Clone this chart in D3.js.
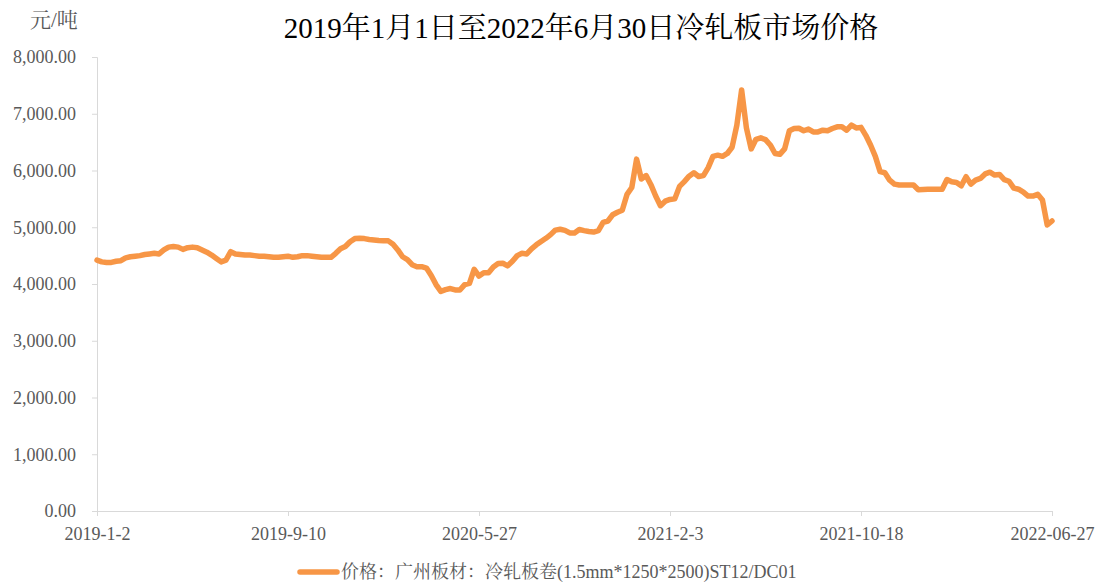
<!DOCTYPE html>
<html>
<head>
<meta charset="utf-8">
<script src="https://cdn.jsdelivr.net/npm/d3@7"></script>
<style>
  body { margin: 0; background: #fff; }
  svg { display: block; }
</style>
</head>
<body>
<div id="chart"></div>
<script>
// price samples, evenly spaced along the category axis
var prices = [
  4420, 4390, 4380, 4380, 4400, 4410, 4460, 4480, 4490, 4500,
  4520, 4530, 4540, 4530, 4600, 4650, 4660, 4650, 4610, 4640,
  4650, 4640, 4600, 4560, 4510, 4450, 4390, 4420, 4570, 4530,
  4520, 4510, 4510, 4500, 4490, 4490, 4480, 4470, 4470, 4480,
  4490, 4470, 4480, 4500, 4500, 4490, 4480, 4470, 4470, 4470,
  4540, 4620, 4660, 4745, 4800, 4805, 4800, 4785, 4775, 4765,
  4760, 4760, 4700, 4600, 4480, 4430, 4340, 4305, 4305, 4280,
  4150, 3990, 3870, 3900, 3920, 3895, 3895, 3990, 4010, 4260,
  4140, 4200, 4200, 4300, 4360, 4365, 4320, 4400, 4500, 4540,
  4530, 4620, 4690, 4750, 4805, 4870, 4950, 4965, 4945, 4900,
  4900, 4960, 4940, 4925, 4915, 4940, 5085, 5110, 5220, 5265,
  5300, 5580, 5700, 6200, 5850, 5910, 5750, 5550, 5380, 5460,
  5490, 5500, 5720, 5805, 5900, 5960, 5895, 5910, 6050, 6250,
  6270, 6250, 6300, 6410, 6800, 7420, 6750, 6380, 6550, 6575,
  6545, 6450, 6300, 6285, 6380, 6700, 6740, 6745, 6700, 6730,
  6680, 6680, 6710, 6700, 6740, 6770, 6770, 6710, 6800, 6750,
  6760, 6620, 6450, 6250, 5980, 5960, 5830, 5760, 5745, 5745,
  5745, 5745, 5660, 5665, 5670, 5670, 5670, 5670, 5840, 5800,
  5790, 5730, 5890, 5760, 5830, 5860, 5940, 5970, 5920, 5930,
  5840, 5810, 5690, 5670, 5620, 5550, 5550, 5580, 5480, 5040,
  5110
];

var tickIndex = [0, 40, 80, 120, 160, 200];
var tickLabels = ["2019-1-2", "2019-9-10", "2020-5-27", "2021-2-3", "2021-10-18", "2022-06-27"];
var yTicks = [0, 1000, 2000, 3000, 4000, 5000, 6000, 7000, 8000];

var title = "2019年1月1日至2022年6月30日冷轧板市场价格";
var unit = "元/吨";
var seriesName = "价格：广州板材：冷轧板卷(1.5mm*1250*2500)ST12/DC01";

var W = 1102, H = 585;
var plotLeft = 97, plotRight = 1052, plotTop = 57, plotBottom = 511;
var serif = "'Liberation Serif', 'Times New Roman', 'Noto Serif CJK SC', 'Noto Sans CJK SC', serif";
var axisColor = "#d9d9d9";
var textColor = "#595959";
var lineColor = "#f79646";

var svg = d3.select("#chart").append("svg")
  .attr("width", W)
  .attr("height", H);

var x = d3.scaleLinear().domain([0, 200]).range([plotLeft, plotRight]);
var y = d3.scaleLinear().domain([0, 8000]).range([plotBottom, plotTop]);

// title and unit
svg.append("text")
  .attr("x", 581)
  .attr("y", 38)
  .attr("text-anchor", "middle")
  .attr("font-family", serif)
  .attr("font-size", 29)
  .attr("fill", "#000")
  .text(title);

svg.append("text")
  .attr("x", 30)
  .attr("y", 27)
  .attr("font-family", serif)
  .attr("font-size", 21)
  .attr("fill", textColor)
  .text(unit);

// y axis
var yAxis = svg.append("g")
  .attr("transform", "translate(" + plotLeft + ",0)")
  .call(d3.axisLeft(y)
    .tickValues(yTicks)
    .tickSize(5)
    .tickPadding(16)
    .tickFormat(d3.format(",.2f")));

yAxis.select(".domain").attr("stroke", axisColor);
yAxis.selectAll(".tick line").attr("stroke", axisColor);
yAxis.selectAll(".tick text")
  .attr("font-family", serif)
  .attr("font-size", 18)
  .attr("fill", textColor);

// x axis
var xAxis = svg.append("g")
  .attr("transform", "translate(0," + plotBottom + ")")
  .call(d3.axisBottom(x)
    .tickValues(tickIndex)
    .tickSize(5)
    .tickSizeOuter(0)
    .tickPadding(11)
    .tickFormat(function (d, i) { return tickLabels[i]; }));

xAxis.select(".domain").attr("stroke", axisColor);
xAxis.selectAll(".tick line").attr("stroke", axisColor);
xAxis.selectAll(".tick text")
  .attr("font-family", serif)
  .attr("font-size", 18)
  .attr("fill", textColor);

// price line
var line = d3.line()
  .x(function (d, i) { return x(i); })
  .y(function (d) { return y(d); });

svg.append("path")
  .datum(prices)
  .attr("d", line)
  .attr("fill", "none")
  .attr("stroke", lineColor)
  .attr("stroke-width", 5.5)
  .attr("stroke-linejoin", "round")
  .attr("stroke-linecap", "round");

// legend
var legend = svg.append("g").attr("transform", "translate(300,572)");
legend.append("line")
  .attr("x1", 0).attr("x2", 37)
  .attr("y1", 0).attr("y2", 0)
  .attr("stroke", lineColor)
  .attr("stroke-width", 5.5)
  .attr("stroke-linecap", "round");
legend.append("text")
  .attr("x", 41)
  .attr("y", 6)
  .attr("font-family", serif)
  .attr("font-size", 18)
  .attr("fill", textColor)
  .text(seriesName);
</script>
</body>
</html>
